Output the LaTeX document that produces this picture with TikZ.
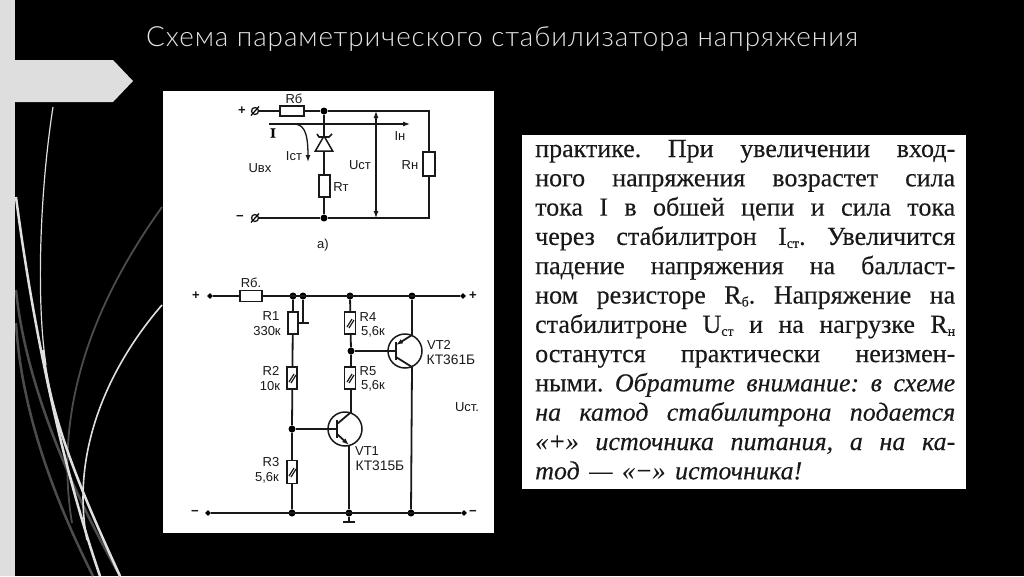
\documentclass[tikz,border=0pt]{standalone}
\usepackage{fontspec}
\usetikzlibrary{arrows.meta,calc,shapes.geometric}
\setmainfont{Liberation Sans}
\newfontfamily\titlefont[LetterSpace=3.4]{Lato Light}
\newfontfamily\bookfont[FakeBold=0.25]{Liberation Serif}
\newcommand{\lowtext}[1]{\raisebox{-3pt}{\fontsize{14}{14}\selectfont #1}}
\tikzset{
 wire/.style={line width=1.8pt,draw=black!90},
 res/.style={draw=black!90,line width=1.5pt,fill=white,rectangle,inner sep=0pt,minimum width=#1},
 res/.default=11pt,
 hatched/.style={path picture={
   \draw[line width=1.2pt] ([xshift=-3pt,yshift=-4pt]path picture bounding box.center) -- ([xshift=2pt,yshift=4pt]path picture bounding box.center);
   \draw[line width=1.2pt] ([xshift=-1pt,yshift=-5pt]path picture bounding box.center) -- ([xshift=4pt,yshift=3pt]path picture bounding box.center);}},
 dot/.style={circle,fill=black,inner sep=0pt,minimum size=7pt},
 tipdot/.style={diamond,fill=black,inner sep=0pt,minimum size=6pt},
 lab/.style={font=\fontsize{13}{13}\selectfont,text=black!90,inner sep=0pt},
 pm/.style={font=\bfseries\fontsize{13}{13}\selectfont,text=black!90,inner sep=0pt},
 bookline/.style={anchor=base west,inner sep=0pt,text=black!90,font=\bookfont\fontsize{26}{26}\selectfont\frenchspacing},
 bright/.style={line width=#1,draw=white!88!black},
 dim/.style={line width=#1,draw=white!30!black},
 tr/.style={circle,draw=black!90,line width=1.5pt,minimum size=34pt,inner sep=0pt},
 tip/.style={-{Latex[length=7pt,width=5pt]}},
}
\begin{document}
\begin{tikzpicture}[x=1pt,y=-1pt]
\useasboundingbox (0,0) rectangle (1024,576);
\fill[black] (0,0) rectangle (1024,576);
% swooshes
\draw[dim=2.5pt] (16,290) .. controls (24,370) and (60,470) .. (120,576);
\draw[dim=2.5pt] (16,323) .. controls (22,420) and (60,510) .. (93,576);
\draw[dim=1.8pt] (162,207) .. controls (110,280) and (50,390) .. (72,523);
\draw[bright=1.2pt] (53,107) .. controls (40,190) and (36,300) .. (46,365);
\draw[bright=2.5pt] (43,350) .. controls (50,420) and (85,500) .. (120,576);
\draw[bright=2.5pt] (16,197) .. controls (32,320) and (60,460) .. (100,576);
\draw[bright=1.6pt] (162,305) .. controls (110,365) and (70,450) .. (87,540);
% left band
\fill[white!87!black] (0,0) rectangle (15,576);
\node[regular polygon,regular polygon sides=3,inner sep=0pt,minimum size=0pt] (tagpt) at (133,81) {};
\fill[white!87!black] (15,60) -- (113,60) -- (tagpt.center) -- (113,102) -- (15,102) -- cycle;
% title
\node[anchor=base west,inner sep=0pt,text=white!90!black,font=\titlefont\fontsize{27.8}{27.8}\selectfont] (title) at (146,46) {Схема параметрического стабилизатора напряжения};
% panels
\fill[white] (163,91) rectangle (494,533);
\fill[white] (522,135) rectangle (966,489);
% --- schematic a
\coordinate (atl) at (324,111);
\coordinate (atr) at (429,111);
\coordinate (abr) at (429,218);
\node[circle,draw=black!90,line width=1.3pt,minimum size=7pt,inner sep=0pt] (tp) at (255,111) {};
\node[circle,draw=black!90,line width=1.3pt,minimum size=7pt,inner sep=0pt] (tm) at (255,218) {};
\draw[line width=1.2pt] (251,115.5) -- (259,106.5);
\draw[line width=1.2pt] (251,222.5) -- (259,213.5);
\node[dot] (ja) at (324,111) {};
\node[dot] (jb) at (324,218) {};
\draw[wire] (tp) -- (ja) -- (atr) -- (abr) -- (jb) -- (tm);
\draw[wire] (ja) -- (jb);
\node[res=24pt,minimum height=10pt] (rb) at (292,111) {};
\node[res,minimum height=22pt] (rt) at (324.5,186) {};
\node[res=12pt,minimum height=24pt] (rn) at (429,164) {};
\node[isosceles triangle,isosceles triangle apex angle=60,shape border rotate=90,draw=black!90,fill=white,line width=1.5pt,minimum height=15pt,inner sep=0pt] (zd) at (324,146) {};
\draw[line width=1.6pt,black!90] (317,134) -- (319,137) -- (329,137) -- (332,134);
\coordinate (ua) at (376,111);
\coordinate (ub) at (376,218);
\draw[line width=1.2pt,black!90,{Latex[length=7pt,width=5pt]}-{Latex[length=7pt,width=5pt]}] (ua) -- (ub);
\coordinate (ia) at (269,124);
\coordinate (ib) at (410,124);
\coordinate (ic) at (293,124);
\coordinate (id) at (308,162);
\draw[line width=1.1pt,black!90,tip] (ia) -- (ib);
\draw[line width=1.3pt,black!90,tip] (ic) .. controls (303,124) and (308,130) .. (id);
\node[pm] (aplus) at (242,111) {+};
\node[pm] (aminus) at (240,218) {−};
\node[lab] (lrb) at (294,99) {Rб};
\node[inner sep=0pt,font=\bookfont\bfseries\fontsize{14}{14}\selectfont] (li) at (273,133) {I};
\node[lab] (lin) at (400,136) {Iн};
\node[lab] (list) at (294,156) {Iст};
\node[lab] (luvx) at (260,168) {Uвх};
\node[lab] (lust) at (360,165) {Uст};
\node[lab] (lrn) at (410,165) {Rн};
\node[lab] (lrt) at (341,187) {Rт};
\node[lab] (lfiga) at (323,245) {а)};
% --- schematic b
\node[tipdot] (tl) at (210,296) {};
\node[tipdot] (tr2) at (463,296) {};
\node[tipdot] (bl) at (208,513) {};
\node[tipdot] (br) at (464,513) {};
\node[dot] (j1) at (293,296) {};
\node[dot] (j2) at (303,296) {};
\node[dot] (j3) at (350,296) {};
\node[dot] (j4) at (412,296) {};
\node[dot] (j5) at (292,429) {};
\node[dot] (j6) at (351,351) {};
\node[dot] (j7) at (292,513) {};
\node[dot] (j8) at (349,513) {};
\node[dot] (j9) at (411,513) {};
\coordinate (gnd) at (349,522);
\draw[wire] (tl) -- (tr2);
\draw[wire] (bl) -- (br);
\node[res=22pt,minimum height=11pt] (rbb) at (251,296) {};
\draw[wire] (j1) -- (j5) -- (j7);
\node[res=10pt,minimum height=22pt] (r1) at (293,323) {};
\node[res=10pt,minimum height=22pt,hatched] (r2) at (292,378) {};
\node[res=10pt,minimum height=23pt,hatched] (r3) at (292,472) {};
\coordinate (wip) at (303,323);
\coordinate (wipe) at (309,323);
\draw[line width=1.4pt,black!90] (j2) -- (wip);
\draw[line width=1.4pt,black!90] (r1.east) -- (wipe);
\draw[wire] (j3) -- (j6) -- ++(0,62);
\node[res=11pt,minimum height=22pt,hatched] (r4) at (350,323) {};
\node[res=11pt,minimum height=22pt,hatched] (r5) at (350,378) {};
\node[tr] (vt2) at (405,351) {};
\node[tr] (vt1) at (345,429) {};
\coordinate (b2t) at (396,342);
\coordinate (b2b) at (396,360);
\coordinate (b1t) at (337,420);
\coordinate (b1b) at (337,438);
\coordinate (c2) at (412,367);
\coordinate (e2) at (412,335);
\coordinate (c1) at (350,413);
\coordinate (e1) at (349,445);
\draw[line width=1.4pt,black!90] (j6) -- (396,351);
\draw[line width=1.4pt,black!90] (j5) -- (337,429);
\draw[line width=2.4pt,black!90] (b2t) -- (b2b);
\draw[line width=2.4pt,black!90] (b1t) -- (b1b);
\draw[wire] (j4) -- (e2);
\draw[wire,tip] (e2) -- (396,345);
\draw[wire] (396,357) -- (c2) -- (j9);
\draw[wire] (337,424) -- (c1);
\draw[wire,tip] (337,434) -- (e1);
\draw[wire] (e1) -- (j8) -- (gnd);
\draw[line width=1.6pt,black!90] (343,522) -- (355,522);
\node[pm] (bp1) at (196,296) {+};
\node[pm] (bp2) at (473,296) {+};
\node[pm] (bm1) at (195,513) {−};
\node[pm] (bm2) at (473,513) {−};
\node[lab] (lrbb) at (251,283) {Rб.};
\node[lab] (lr1) at (271,316) {R1};
\node[lab] (v1) at (267,331) {330к};
\node[lab] (lr2) at (271,371) {R2};
\node[lab] (v2) at (270,386) {10к};
\node[lab] (lr3) at (271,462) {R3};
\node[lab] (v3) at (267,478) {5,6к};
\node[lab] (lr4) at (368,317) {R4};
\node[lab] (v4) at (373,332) {5,6к};
\node[lab] (lr5) at (368,371) {R5};
\node[lab] (v5) at (373,386) {5,6к};
\node[lab] (lvt2) at (439,345) {VT2};
\node[lab,font=\fontsize{13.8}{13.8}\selectfont] (kt2) at (451,360) {КТ361Б};
\node[lab] (lvt1) at (367,451) {VT1};
\node[lab,font=\fontsize{13.8}{13.8}\selectfont] (kt1) at (380,466) {КТ315Б};
\node[lab] (lus) at (467,407) {Uст.};
% --- book text
\newcommand{\bl}[2]{\node[bookline] (line#1) at (535,{157+29.3*(#1-1)}) {\makebox[420pt][s]{#2}};}
\bl{1}{практике. При увеличении вход-}
\bl{2}{ного напряжения возрастет сила}
\bl{3}{тока I в обшей цепи и сила тока}
\bl{4}{через стабилитрон I\lowtext{ст}. Увеличится}
\bl{5}{падение напряжения на балласт-}
\bl{6}{ном резисторе R\lowtext{б}. Напряжение на}
\bl{7}{стабилитроне U\lowtext{ст} и на нагрузке R\lowtext{н}}
\bl{8}{останутся практически неизмен-}
\bl{9}{ными. \textit{Обратите внимание: в схеме}}
\bl{10}{\textit{на катод стабилитрона подается}}
\bl{11}{\textit{«+» источника питания, а на ка-}}
\node[bookline] (line12) at (535,{157+29.3*11}) {\makebox[267pt][s]{\textit{тод — «−» источника!}}};
\end{tikzpicture}
\end{document}
